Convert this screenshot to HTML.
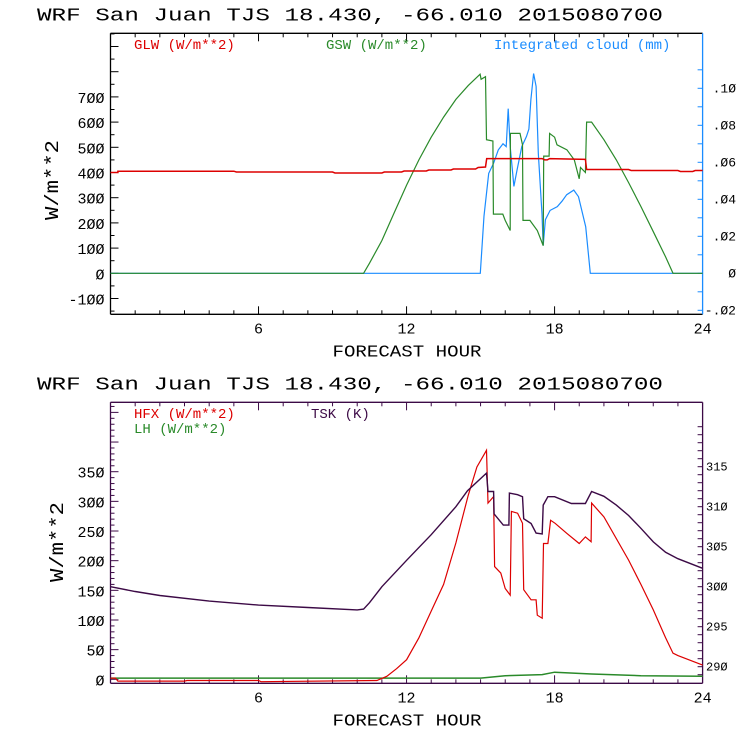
<!DOCTYPE html>
<html><head><meta charset="utf-8"><style>
html,body{margin:0;padding:0;background:#fff;}
svg{display:block;}
text{font-family:"Liberation Mono",monospace;}
</style></head><body>
<svg id="chart" width="740" height="740" viewBox="0 0 740 740" xmlns="http://www.w3.org/2000/svg"></svg>
<script>
// ---- data (hours, values) ----
const glwHours = [0,0.3,0.3,5,5.1,9,9.1,11,11.1,11.8,11.9,12.8,12.9,13.8,13.9,14.8,14.9,15.2,15.25,17.5,17.6,17.7,17.8,19.25,19.3,21,21.1,23,23.1,23.6,23.7,24];
const glwVals  = [400,400,405,405,402,402,398,398,402,402,406,406,410,410,414,414,420,422,455,455,450,450,455,452,412,412,408,408,404,404,408,408];
const gswHours = [0,10.26,10.5,11,11.5,12,12.5,13,13.5,14,14.5,14.98,15.02,15.2,15.24,15.5,15.52,15.9,16.0,16.2,16.21,16.6,16.7,16.72,17.0,17.3,17.54,17.56,17.78,17.8,18.0,18.1,18.5,18.8,19.0,19.05,19.25,19.3,19.5,20,20.5,21,21.5,22,22.5,22.8,24];
const gswVals  = [0,0,40,130,240,350,450,540,620,690,745,790,770,780,530,525,235,235,210,170,555,555,510,210,210,170,110,465,465,555,540,510,490,450,375,420,400,600,600,530,450,360,265,165,65,0,0];
const cloudHours = [0,14.99,15.14,15.33,15.53,15.72,15.91,16.04,16.12,16.2,16.35,16.48,16.67,16.86,16.96,17.04,17.15,17.25,17.34,17.49,17.54,17.63,17.82,18.11,18.3,18.49,18.78,18.97,19.26,19.45,24];
const cloudVals  = [0,0,0.031,0.054,0.0595,0.0667,0.070,0.0685,0.089,0.0685,0.047,0.056,0.0685,0.074,0.078,0.094,0.108,0.101,0.065,0.032,0.015,0.029,0.034,0.036,0.039,0.0425,0.045,0.0414,0.0252,0,0];
const tskHours = [0,1,2,4,6,8,10,10.26,10.5,11,12,13,14,14.47,15.24,15.3,15.53,15.55,15.92,16.15,16.17,16.5,16.7,16.75,17.05,17.25,17.5,17.54,17.73,18.0,18.68,19.25,19.5,20,20.5,21,21.5,22,22.5,23,24];
const tskVals  = [300,299.4,298.9,298.2,297.7,297.4,297.1,297.2,298,300,303.3,306.5,310,312,314.2,311.9,311.9,309.1,307.7,307.7,311.7,311.5,311.25,308.5,307.9,306.7,306.6,310.2,311.25,311.25,310.4,310.4,311.9,311.3,310.2,308.9,307.3,305.6,304.3,303.5,302.3];
const hfxHours = [0,0.2,0.3,3,3.1,6,6.1,10.8,11.2,11.6,12,12.5,13,13.5,14,14.5,14.85,15.24,15.3,15.53,15.57,15.82,16.0,16.2,16.25,16.5,16.7,16.75,17.05,17.25,17.3,17.5,17.55,17.73,17.84,18.02,18.5,19.0,19.25,19.48,19.5,20,21,21.5,22,22.5,22.8,23,24];
const hfxVals  = [2,2,-3,-3,-2,-2,-4,-2,5,18,33,70,115,160,230,310,358,386,297,308,190,179,153,142,283,280,263,151,134,134,108,103,229,229,268,263,246,229,240,232,297,274,201,160,117,70,44,40,24];
const lhHours = [0,15,16,17.5,18,19.5,21.5,24];
const lhVals  = [2,2,6,8,12,9,6,5];
const xTicks = [6,12,18,24];
const topLeftTicks = [-100,0,100,200,300,400,500,600,700];
const topRightTicks = [-0.02,0,0.02,0.04,0.06,0.08,0.10];
const topRightLabels = ['-.02','0','.02','.04','.06','.08','.10'];
const botLeftTicks = [0,50,100,150,200,250,300,350];
const botRightTicks = [290,295,300,305,310,315];

const NS='http://www.w3.org/2000/svg';
const svg=document.getElementById('chart');
function mk(tag,attrs,parent){const e=document.createElementNS(NS,tag);for(const k in attrs)e.setAttribute(k,attrs[k]);(parent||svg).appendChild(e);return e;}
function txt(s,attrs,parent){const e=mk('text',attrs,parent);e.textContent=s;return e;}

const X0=110.5,X1=702.6;
const xS=h=>X0+(X1-X0)*h/24;

function panel(o){
  const g=mk('g',{});
  
  
  const t=txt('WRF  San Juan TJS  18.430, -66.010  2015080700',{x:37,y:o.top-13,'font-size':18,textLength:626,lengthAdjust:'spacingAndGlyphs',fill:'#000'},g);
  
  
  mk('line',{x1:X0,y1:o.top,x2:X1,y2:o.top,stroke:o.frame,'stroke-width':1.3},g);
  mk('line',{x1:X0,y1:o.bot,x2:X1,y2:o.bot,stroke:o.frame,'stroke-width':1.3},g);
  mk('line',{x1:X0,y1:o.top,x2:X0,y2:o.bot,stroke:o.frame,'stroke-width':1.3},g);
  mk('line',{x1:X1,y1:o.top,x2:X1,y2:o.bot,stroke:o.rframe,'stroke-width':1.3},g);
  for(let h=1;h<24;h++){const L=h%6===0?8:4;const x=xS(h);
    mk('line',{x1:x,y1:o.bot,x2:x,y2:o.bot-L,stroke:o.frame,'stroke-width':1},g);
    mk('line',{x1:x,y1:o.top,x2:x,y2:o.top+L,stroke:o.frame,'stroke-width':1},g);}
  xTicks.forEach(h=>{const e=txt(String(h).replace(/0/g,'\u00d8'),{x:xS(h),y:o.bot+19,'font-size':15,'text-anchor':'middle',fill:'#000'},g);
    
    });
  const xt=txt('FORECAST HOUR',{x:407,y:o.bot+42,'font-size':17,'text-anchor':'middle',textLength:149,lengthAdjust:'spacingAndGlyphs',fill:'#000'},g);
  
  
  const yt=txt('W/m**2',{x:0,y:0,'font-size':19,'text-anchor':'middle',transform:`translate(${o.ytx},${o.yty}) rotate(-90)`,textLength:80,lengthAdjust:'spacingAndGlyphs',fill:'#000'},g);
  
  
  for(let v=o.lmin;v<=o.lmax+1e-9;v+=o.lminor){const y=o.yL(v);if(y<o.top||y>o.bot)continue;
    const major=Math.abs(v/o.lmajor-Math.round(v/o.lmajor))<1e-6;
    mk('line',{x1:X0,y1:y,x2:X0+(major?8:4),y2:y,stroke:o.frame,'stroke-width':1},g);}
  o.lticks.forEach(v=>{const e=txt(String(v).replace(/0/g,'\u00d8'),{x:X0-6,y:o.yL(v)+6,'font-size':15,'text-anchor':'end',fill:'#000'},g);
    
    });
  for(let v=o.rmin;v<=o.rmax+1e-9;v+=o.rminor){const y=o.yR(v);if(y<o.top||y>o.bot)continue;
    mk('line',{x1:X1,y1:y,x2:X1-5,y2:y,stroke:o.rframe,'stroke-width':1},g);}
  o.rticks.forEach((v,i)=>{const e=txt(o.rlabels[i].replace(/0/g,'\u00d8'),{x:o.rlx,y:o.yR(v)+4,'font-size':o.rfs,'text-anchor':o.ranchor,fill:'#000'},g);
    
    });
  return g;
}
function series(g,hours,vals,yf,color,name,w){
  const pts=hours.map((h,i)=>xS(h).toFixed(1)+','+yf(vals[i]).toFixed(1)).join(' ');
  const p=mk('polyline',{points:pts,fill:'none',stroke:color,'stroke-width':w||1.2,'stroke-linejoin':'miter'},g);
  
  
}
function legend(g,s,x,y,color,name){
  const e=txt(s,{x:x,y:y,'font-size':14,fill:color,'font-family':'Liberation Serif, serif'},g);
  
  
}

// ---- top panel ----
const yT=v=>273.3-v*0.252;
const yTR=v=>273.3-v*(273.3-88.3)/0.10;
const g1=panel({name:'radiation-panel',top:33.3,bot:314.3,frame:'#000',rframe:'#1a8cff',
  yL:yT,yR:yTR,lmin:-150,lmax:950,lminor:50,lmajor:100,lticks:topLeftTicks,
  rmin:-0.02,rmax:0.11,rminor:0.01,rticks:topRightTicks,rlabels:topRightLabels,rlx:736,rfs:13,ranchor:'end',
  ytx:58,yty:180});
series(g1,cloudHours,cloudVals,yTR,'#1a8cff','integrated-cloud-line');
series(g1,gswHours,gswVals,yT,'#2a8a2a','gsw-line');
series(g1,glwHours,glwVals,yT,'#dd0000','glw-line',1.5);
legend(g1,'GLW (W/m**2)',134,49,'#dd0000','legend-glw');
legend(g1,'GSW (W/m**2)',326,49,'#2a8a2a','legend-gsw');
legend(g1,'Integrated cloud (mm)',494,49,'#1a8cff','legend-cloud');

// ---- bottom panel ----
const yB=v=>679.3-v*(679.3-471.7)/350;
const yBR=v=>666.7-(v-290)*(666.7-466.7)/25;
const g2=panel({name:'flux-panel',top:402.3,bot:683.3,frame:'#3c0a46',rframe:'#3c0a46',
  yL:yB,yR:yBR,lmin:0,lmax:470,lminor:10,lmajor:50,lticks:botLeftTicks,
  rmin:289,rmax:320,rminor:1,rticks:botRightTicks,rlabels:botRightTicks.map(String),rlx:706,rfs:12,ranchor:'start',
  ytx:63,yty:542});
series(g2,lhHours,lhVals,yB,'#2a8a2a','lh-line',1.5);
series(g2,hfxHours,hfxVals,yB,'#dd0000','hfx-line');
series(g2,tskHours,tskVals,yBR,'#3c0a46','tsk-line',1.4);
legend(g2,'HFX (W/m**2)',134,418,'#dd0000','legend-hfx');
legend(g2,'LH  (W/m**2)',134,433,'#2a8a2a','legend-lh');
legend(g2,'TSK (K)',311,418,'#3c0a46','legend-tsk');
</script>
</body></html>
